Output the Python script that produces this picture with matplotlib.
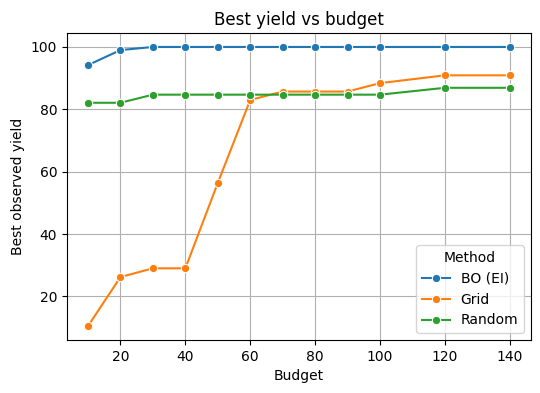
import matplotlib
matplotlib.use("Agg")
import matplotlib.pyplot as plt

budgets = [10, 20, 30, 40, 50, 60, 70, 80, 90, 100, 120, 140]
bo_ei = [94.2, 99.0, 100, 100, 100, 100, 100, 100, 100, 100, 100, 100]
grid = [10.5, 26.2, 29.0, 29.0, 56.4, 83.0, 85.7, 85.7, 85.7, 88.4, 90.9, 90.9]
random = [82.1, 82.1, 84.7, 84.7, 84.7, 84.7, 84.7, 84.7, 84.7, 84.7, 86.9, 86.9]

methods = ["BO (EI)", "Grid", "Random"]
series = [bo_ei, grid, random]
colors = ["#1f77b4", "#ff7f0e", "#2ca02c"]

fig, ax = plt.subplots(figsize=(5.4, 3.93), dpi=100)
for name, vals, c in zip(methods, series, colors):
    ax.plot(budgets, vals, marker="o", color=c, label=name,
            markersize=6, markeredgecolor="white", markeredgewidth=0.75,
            linewidth=1.5)

ax.set_title("Best yield vs budget")
ax.set_xlabel("Budget")
ax.set_ylabel("Best observed yield")
ax.set_xticks([20, 40, 60, 80, 100, 120, 140])
ax.grid(True)
ax.legend(title="Method", loc="lower right")

fig.subplots_adjust(left=0.124, right=0.983, top=0.916, bottom=0.135)
fig.savefig("out.png")
